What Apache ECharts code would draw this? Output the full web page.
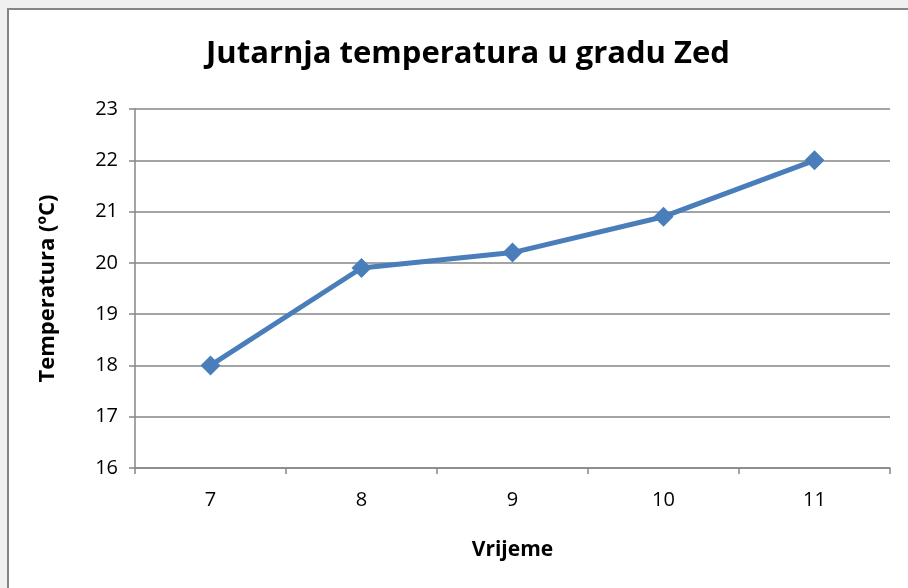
<!DOCTYPE html>
<html>
<head>
<meta charset="utf-8">
<script src="https://cdn.jsdelivr.net/npm/echarts@6/dist/echarts.min.js"></script>
<style>
html,body{margin:0;padding:0;background:#f0f0f0;}
#c{width:908px;height:588px;}
</style>
</head>
<body>
<div id="c"></div>
<script>
const titleText = 'Jutarnja temperatura u gradu Zed';
const xName = 'Vrijeme';
const yName = 'Temperatura (ºC)';
const hours = ['7', '8', '9', '10', '11'];
const temps = [18, 19.9, 20.2, 20.9, 22];

const chart = echarts.init(document.getElementById('c'));
const font = '"Open Sans", "Liberation Sans", sans-serif';
chart.setOption({
  backgroundColor: '#f0f0f0',
  animation: false,
  graphic: [{
    type: 'rect', z: -10,
    shape: {x: 8, y: 9, width: 920, height: 600},
    style: {fill: '#ffffff', stroke: '#868686', lineWidth: 2}
  }],
  title: {
    text: titleText, left: 463, top: 34, textAlign: 'center',
    textStyle: {fontFamily: font, fontSize: 31, fontWeight: 'bold', color: '#000'}
  },
  grid: {left: 135, right: 18, top: 109, bottom: 120},
  xAxis: {
    type: 'category', data: hours, boundaryGap: true,
    name: xName, nameLocation: 'middle', nameGap: 72,
    nameTextStyle: {fontFamily: font, fontSize: 21, fontWeight: 'bold', color: '#000'},
    axisLine: {lineStyle: {color: '#868686', width: 1.5}},
    axisTick: {show: true, length: 6, alignWithLabel: false, lineStyle: {color: '#868686', width: 1.5}},
    axisLabel: {fontFamily: font, fontSize: 20, color: '#000', margin: 22}
  },
  yAxis: {
    type: 'value', min: 16, max: 23, interval: 1,
    name: yName, nameLocation: 'middle', nameGap: 76,
    nameTextStyle: {fontFamily: font, fontSize: 22, fontWeight: 'bold', color: '#000'},
    axisLine: {show: true, lineStyle: {color: '#868686', width: 1.5}},
    axisTick: {show: true, length: 6, lineStyle: {color: '#868686', width: 1.5}},
    axisLabel: {fontFamily: font, fontSize: 20, color: '#000', margin: 17},
    splitLine: {lineStyle: {color: '#868686', width: 1.5}}
  },
  series: [{
    type: 'line', data: temps,
    symbol: 'diamond', symbolSize: 20,
    lineStyle: {color: '#4a7ebb', width: 5},
    itemStyle: {color: '#4a7ebb'}
  }]
});
</script>
</body>
</html>
